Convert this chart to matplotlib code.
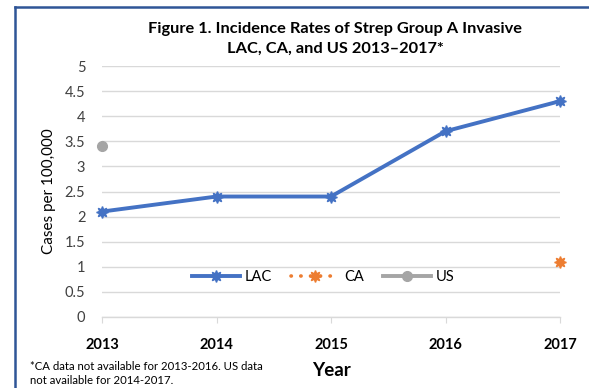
import matplotlib
matplotlib.use("Agg")
import matplotlib.pyplot as plt
from matplotlib.lines import Line2D

plt.rcParams['font.family'] = ['Lato', 'DejaVu Sans']

years = [2013, 2014, 2015, 2016, 2017]
lac_years = [2013, 2014, 2015, 2016, 2017]
lac_rates = [2.1, 2.4, 2.4, 3.7, 4.3]
ca_years = [2017]
ca_rates = [1.1]
us_years = [2013]
us_rates = [3.4]
y_ticks = [0, 0.5, 1, 1.5, 2, 2.5, 3, 3.5, 4, 4.5, 5]
y_tick_labels = ['0', '0.5', '1', '1.5', '2', '2.5', '3', '3.5', '4', '4.5', '5']

C_LAC = '#4472C4'
C_CA = '#ED7D31'
C_US = '#A5A5A5'
C_GRID = '#D9D9D9'

fig = plt.figure(figsize=(5.89, 3.88), dpi=100)
W, H = 589, 388
ax = fig.add_axes([102 / W, 1 - 317 / H, (560 - 102) / W, (317 - 66) / H])

star = (8, 1, 0)
dots = (0, (0.1, 2.6))
ax.plot(lac_years, lac_rates, color=C_LAC, lw=2.8, marker=star, ms=8.5,
        clip_on=False, zorder=4)
ax.plot(ca_years, ca_rates, color=C_CA, lw=2.6, ls=dots,
        dash_capstyle='round', marker=star, ms=8.5, clip_on=False, zorder=4)
ax.plot(us_years, us_rates, color=C_US, lw=2.8, marker='o', ms=7,
        clip_on=False, zorder=4)

ax.set_xlim(2013, 2017)
ax.set_ylim(0, 5)
ax.set_yticks(y_ticks)
ax.set_yticklabels(y_tick_labels, fontsize=10.5, color='#404040')
ax.set_xticks(years)
ax.set_xticklabels([str(y) for y in years], fontsize=10.5, fontweight='bold',
                   color='black')
ax.tick_params(axis='y', length=0, pad=12)
ax.tick_params(axis='x', length=4, width=0.8, color=C_GRID, direction='out', pad=11)
ax.grid(axis='y', color=C_GRID, lw=1)
ax.set_axisbelow(True)
for s in ['top', 'right', 'left']:
    ax.spines[s].set_visible(False)
ax.spines['bottom'].set_color(C_GRID)
ax.spines['bottom'].set_linewidth(1)

ax.set_ylabel('Cases per 100,000', fontsize=11, color='black')
ax.yaxis.set_label_coords(-0.10, 0.5)

handles = [
    Line2D([], [], color=C_LAC, lw=2.8, marker=star, ms=8.5),
    Line2D([], [], color=C_CA, lw=2.6, ls=dots, dash_capstyle='round',
           marker=star, ms=8.5),
    Line2D([], [], color=C_US, lw=2.8, marker='o', ms=7),
]
ax.legend(handles, ['LAC', 'CA', 'US'], loc='center', ncol=3, frameon=False,
          bbox_to_anchor=(0.483, 0.16), fontsize=10.5, handlelength=3.3,
          handletextpad=0.35, columnspacing=1.3)

fig.text(335 / W, 1 - 29 / H, 'Figure 1. Incidence Rates of Strep Group A Invasive',
         ha='center', va='center', fontsize=11.8, fontweight='bold')
fig.text(335 / W, 1 - 49 / H, 'LAC, CA, and US 2013\u20132017*',
         ha='center', va='center', fontsize=11.8, fontweight='bold')
fig.text(331 / W, 1 - 371 / H, 'Year', ha='center', va='center', fontsize=13.5,
         fontweight='bold')
fig.text(30 / W, 1 - 366 / H, '*CA data not available for 2013-2016. US data',
         ha='left', va='center', fontsize=8.2)
fig.text(30 / W, 1 - 381 / H, 'not available for 2014-2017.',
         ha='left', va='center', fontsize=8.2)

# frame edges at top and left
fig.add_artist(Line2D([15 / W, 1], [1 - 7 / H, 1 - 7 / H], color='#2F5597', lw=1.8))
fig.add_artist(Line2D([15 / W, 15 / W], [0, 1 - 7 / H], color='#2F5597', lw=1.8))

fig.savefig('out.png', dpi=100)
